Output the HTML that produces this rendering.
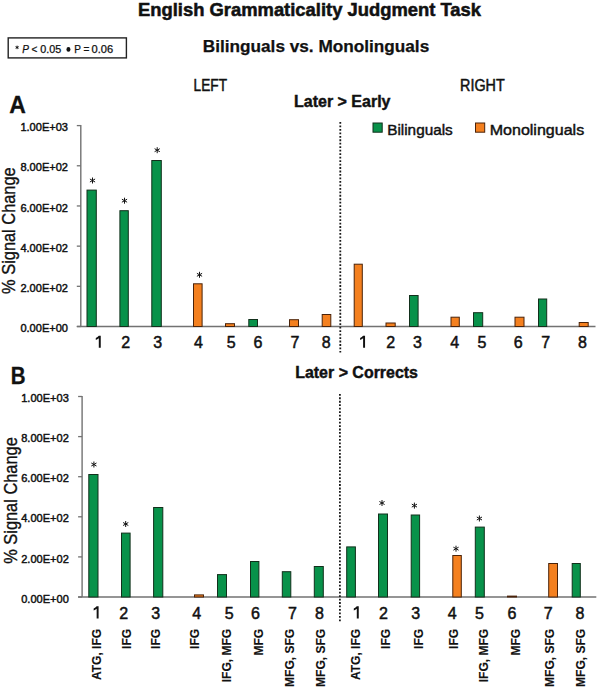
<!DOCTYPE html>
<html><head><meta charset="utf-8"><title>English Grammaticality Judgment Task</title>
<style>
html,body{margin:0;padding:0;background:#fff;}
body{width:600px;height:690px;overflow:hidden;}
svg{display:block;font-family:"Liberation Sans",sans-serif;}
</style></head><body>
<svg width="600" height="690" viewBox="0 0 600 690">
<rect width="600" height="690" fill="#fff"/>
<text x="138" y="16" font-size="19" font-weight="bold" text-anchor="start" textLength="343" lengthAdjust="spacingAndGlyphs" fill="#111" stroke="#111" stroke-width="0.55" >English Grammaticality Judgment Task</text>
<text x="202.8" y="52" font-size="17.2" font-weight="bold" text-anchor="start" textLength="226.4" lengthAdjust="spacingAndGlyphs" fill="#111" stroke="#111" stroke-width="0.25" >Bilinguals vs. Monolinguals</text>
<rect x="8.2" y="37.9" width="118.2" height="20" fill="#fff" stroke="#222" stroke-width="1.4"/>
<path d="M17.10 45.65L17.10 49.15M15.58 46.52L18.62 48.27M15.58 48.27L18.62 46.52" stroke="#111" stroke-width="0.95" fill="none" stroke-linecap="butt"/>
<text x="22.3" y="53.2" font-size="10" font-weight="normal" text-anchor="start" fill="#111" stroke="#111" stroke-width="0.25" font-style="italic">P</text>
<text x="31.5" y="53.2" font-size="10" font-weight="normal" text-anchor="start" fill="#111" stroke="#111" stroke-width="0.25" >&lt;</text>
<text x="40.2" y="53.2" font-size="10" font-weight="normal" text-anchor="start" textLength="21" lengthAdjust="spacingAndGlyphs" fill="#111" stroke="#111" stroke-width="0.25" >0.05</text>
<ellipse cx="68.45" cy="49.4" rx="2.0" ry="2.3" fill="#111"/>
<text x="74.2" y="53.2" font-size="10" font-weight="normal" text-anchor="start" fill="#111" stroke="#111" stroke-width="0.25" >P</text>
<text x="83.4" y="53.2" font-size="10" font-weight="normal" text-anchor="start" fill="#111" stroke="#111" stroke-width="0.25" >=</text>
<text x="91.6" y="53.2" font-size="10" font-weight="normal" text-anchor="start" textLength="21.6" lengthAdjust="spacingAndGlyphs" fill="#111" stroke="#111" stroke-width="0.25" >0.06</text>
<text x="193.6" y="91" font-size="16.3" font-weight="normal" text-anchor="start" textLength="33.4" lengthAdjust="spacingAndGlyphs" fill="#111" stroke="#111" stroke-width="0.5" >LEFT</text>
<text x="460.1" y="91" font-size="16.3" font-weight="normal" text-anchor="start" textLength="44.6" lengthAdjust="spacingAndGlyphs" fill="#111" stroke="#111" stroke-width="0.5" >RIGHT</text>
<text x="294" y="107" font-size="16.8" font-weight="bold" text-anchor="start" textLength="96.5" lengthAdjust="spacingAndGlyphs" fill="#111" stroke="#111" stroke-width="0.45" >Later &gt; Early</text>
<text x="295.2" y="377.5" font-size="16.8" font-weight="bold" text-anchor="start" textLength="122.8" lengthAdjust="spacingAndGlyphs" fill="#111" stroke="#111" stroke-width="0.45" >Later &gt; Corrects</text>
<text x="9.3" y="113.3" font-size="23.5" font-weight="bold" text-anchor="start" textLength="16.6" lengthAdjust="spacingAndGlyphs" fill="#111" stroke="#111" stroke-width="0.3" >A</text>
<text x="10.7" y="383.7" font-size="23" font-weight="bold" text-anchor="start" textLength="14.8" lengthAdjust="spacingAndGlyphs" fill="#111" stroke="#111" stroke-width="0.3" >B</text>
<rect x="373" y="123" width="9.2" height="9.2" fill="#08924a" stroke="#12301c" stroke-width="1"/>
<text x="387.2" y="134.5" font-size="15.2" font-weight="normal" text-anchor="start" textLength="65.6" lengthAdjust="spacingAndGlyphs" fill="#111" stroke="#111" stroke-width="0.45" >Bilinguals</text>
<rect x="475.5" y="123" width="9.2" height="9.2" fill="#f4801f" stroke="#4a230a" stroke-width="1"/>
<text x="489.7" y="134.5" font-size="15.2" font-weight="normal" text-anchor="start" textLength="94.5" lengthAdjust="spacingAndGlyphs" fill="#111" stroke="#111" stroke-width="0.45" >Monolinguals</text>
<line x1="80.8" y1="125.0" x2="80.8" y2="326.5" stroke="#727272" stroke-width="1.4"/>
<line x1="76.8" y1="125.60" x2="80.8" y2="125.60" stroke="#727272" stroke-width="1.3"/>
<line x1="76.8" y1="165.78" x2="80.8" y2="165.78" stroke="#727272" stroke-width="1.3"/>
<line x1="76.8" y1="205.96" x2="80.8" y2="205.96" stroke="#727272" stroke-width="1.3"/>
<line x1="76.8" y1="246.14" x2="80.8" y2="246.14" stroke="#727272" stroke-width="1.3"/>
<line x1="76.8" y1="286.32" x2="80.8" y2="286.32" stroke="#727272" stroke-width="1.3"/>
<line x1="76.8" y1="326.50" x2="80.8" y2="326.50" stroke="#727272" stroke-width="1.3"/>
<line x1="76.8" y1="326.5" x2="595.5" y2="326.5" stroke="#727272" stroke-width="1.3"/>
<text x="20.4" y="131.2" font-size="11.2" font-weight="normal" text-anchor="start" textLength="47.6" lengthAdjust="spacingAndGlyphs" fill="#111" stroke="#111" stroke-width="0.45" >1.00E+03</text>
<text x="20.4" y="171.38" font-size="11.2" font-weight="normal" text-anchor="start" textLength="47.6" lengthAdjust="spacingAndGlyphs" fill="#111" stroke="#111" stroke-width="0.45" >8.00E+02</text>
<text x="20.4" y="211.55999999999997" font-size="11.2" font-weight="normal" text-anchor="start" textLength="47.6" lengthAdjust="spacingAndGlyphs" fill="#111" stroke="#111" stroke-width="0.45" >6.00E+02</text>
<text x="20.4" y="251.73999999999998" font-size="11.2" font-weight="normal" text-anchor="start" textLength="47.6" lengthAdjust="spacingAndGlyphs" fill="#111" stroke="#111" stroke-width="0.45" >4.00E+02</text>
<text x="20.4" y="291.92" font-size="11.2" font-weight="normal" text-anchor="start" textLength="47.6" lengthAdjust="spacingAndGlyphs" fill="#111" stroke="#111" stroke-width="0.45" >2.00E+02</text>
<text x="20.4" y="332.1" font-size="11.2" font-weight="normal" text-anchor="start" textLength="47.6" lengthAdjust="spacingAndGlyphs" fill="#111" stroke="#111" stroke-width="0.45" >0.00E+00</text>
<text transform="translate(14.89,167.30) rotate(-90)" x="0" y="0" font-size="18" font-weight="normal" text-anchor="end" textLength="126.6" lengthAdjust="spacingAndGlyphs" fill="#111" stroke="#111" stroke-width="0.35">% Signal Change</text>
<line x1="340.3" y1="122" x2="340.3" y2="352.5" stroke="#1a1a1a" stroke-width="1.8" stroke-dasharray="1.8 1.67"/>
<rect x="87.00" y="190.10" width="9.30" height="136.40" fill="#08924a" stroke="#12301c" stroke-width="1"/>
<rect x="119.90" y="210.70" width="8.40" height="115.80" fill="#08924a" stroke="#12301c" stroke-width="1"/>
<rect x="151.80" y="160.50" width="9.50" height="166.00" fill="#08924a" stroke="#12301c" stroke-width="1"/>
<rect x="193.50" y="283.80" width="8.60" height="42.70" fill="#f4801f" stroke="#4a230a" stroke-width="1"/>
<rect x="225.50" y="323.70" width="9.00" height="2.80" fill="#f4801f" stroke="#4a230a" stroke-width="1"/>
<rect x="248.80" y="319.50" width="8.70" height="7.00" fill="#08924a" stroke="#12301c" stroke-width="1"/>
<rect x="289.50" y="319.70" width="9.00" height="6.80" fill="#f4801f" stroke="#4a230a" stroke-width="1"/>
<rect x="322.20" y="314.50" width="8.60" height="12.00" fill="#f4801f" stroke="#4a230a" stroke-width="1"/>
<rect x="354.20" y="264.20" width="8.10" height="62.30" fill="#f4801f" stroke="#4a230a" stroke-width="1"/>
<rect x="386.00" y="323.00" width="9.20" height="3.50" fill="#f4801f" stroke="#4a230a" stroke-width="1"/>
<rect x="409.50" y="295.50" width="8.60" height="31.00" fill="#08924a" stroke="#12301c" stroke-width="1"/>
<rect x="451.00" y="317.20" width="8.30" height="9.30" fill="#f4801f" stroke="#4a230a" stroke-width="1"/>
<rect x="473.50" y="312.70" width="9.20" height="13.80" fill="#08924a" stroke="#12301c" stroke-width="1"/>
<rect x="515.00" y="317.20" width="9.00" height="9.30" fill="#f4801f" stroke="#4a230a" stroke-width="1"/>
<rect x="538.50" y="299.00" width="8.20" height="27.50" fill="#08924a" stroke="#12301c" stroke-width="1"/>
<rect x="579.20" y="322.50" width="9.00" height="4.00" fill="#f4801f" stroke="#4a230a" stroke-width="1"/>
<path d="M92.50 177.50L92.50 183.50M89.90 179.00L95.10 182.00M89.90 182.00L95.10 179.00" stroke="#111" stroke-width="1.0" fill="none" stroke-linecap="butt"/>
<path d="M124.50 197.70L124.50 203.70M121.90 199.20L127.10 202.20M121.90 202.20L127.10 199.20" stroke="#111" stroke-width="1.0" fill="none" stroke-linecap="butt"/>
<path d="M157.20 147.20L157.20 153.20M154.60 148.70L159.80 151.70M154.60 151.70L159.80 148.70" stroke="#111" stroke-width="1.0" fill="none" stroke-linecap="butt"/>
<path d="M199.50 271.80L199.50 277.80M196.90 273.30L202.10 276.30M196.90 276.30L202.10 273.30" stroke="#111" stroke-width="1.0" fill="none" stroke-linecap="butt"/>
<path d="M98.80 335.70H100.75V347.70H98.80V338.20Q97.40 339.40 95.80 339.90V338.00Q97.70 337.20 98.80 335.70Z" fill="#111"/>
<text x="125.8" y="347.6" font-size="16" font-weight="normal" text-anchor="middle" fill="#111" stroke="#111" stroke-width="0.5" >2</text>
<text x="157.8" y="347.6" font-size="16" font-weight="normal" text-anchor="middle" fill="#111" stroke="#111" stroke-width="0.5" >3</text>
<text x="198.4" y="347.6" font-size="16" font-weight="normal" text-anchor="middle" fill="#111" stroke="#111" stroke-width="0.5" >4</text>
<text x="231.2" y="347.6" font-size="16" font-weight="normal" text-anchor="middle" fill="#111" stroke="#111" stroke-width="0.5" >5</text>
<text x="258" y="347.6" font-size="16" font-weight="normal" text-anchor="middle" fill="#111" stroke="#111" stroke-width="0.5" >6</text>
<text x="295" y="347.6" font-size="16" font-weight="normal" text-anchor="middle" fill="#111" stroke="#111" stroke-width="0.5" >7</text>
<text x="326.2" y="347.6" font-size="16" font-weight="normal" text-anchor="middle" fill="#111" stroke="#111" stroke-width="0.5" >8</text>
<path d="M363.10 335.70H365.05V347.70H363.10V338.20Q361.70 339.40 360.10 339.90V338.00Q362.00 337.20 363.10 335.70Z" fill="#111"/>
<text x="390.7" y="347.6" font-size="16" font-weight="normal" text-anchor="middle" fill="#111" stroke="#111" stroke-width="0.5" >2</text>
<text x="417.5" y="347.6" font-size="16" font-weight="normal" text-anchor="middle" fill="#111" stroke="#111" stroke-width="0.5" >3</text>
<text x="454.6" y="347.6" font-size="16" font-weight="normal" text-anchor="middle" fill="#111" stroke="#111" stroke-width="0.5" >4</text>
<text x="482" y="347.6" font-size="16" font-weight="normal" text-anchor="middle" fill="#111" stroke="#111" stroke-width="0.5" >5</text>
<text x="518.2" y="347.6" font-size="16" font-weight="normal" text-anchor="middle" fill="#111" stroke="#111" stroke-width="0.5" >6</text>
<text x="545.8" y="347.6" font-size="16" font-weight="normal" text-anchor="middle" fill="#111" stroke="#111" stroke-width="0.5" >7</text>
<text x="582.5" y="347.6" font-size="16" font-weight="normal" text-anchor="middle" fill="#111" stroke="#111" stroke-width="0.5" >8</text>
<line x1="82.1" y1="395.9" x2="82.1" y2="597" stroke="#727272" stroke-width="1.4"/>
<line x1="78.1" y1="396.50" x2="82.1" y2="396.50" stroke="#727272" stroke-width="1.3"/>
<line x1="78.1" y1="436.60" x2="82.1" y2="436.60" stroke="#727272" stroke-width="1.3"/>
<line x1="78.1" y1="476.70" x2="82.1" y2="476.70" stroke="#727272" stroke-width="1.3"/>
<line x1="78.1" y1="516.80" x2="82.1" y2="516.80" stroke="#727272" stroke-width="1.3"/>
<line x1="78.1" y1="556.90" x2="82.1" y2="556.90" stroke="#727272" stroke-width="1.3"/>
<line x1="78.1" y1="597.00" x2="82.1" y2="597.00" stroke="#727272" stroke-width="1.3"/>
<line x1="78.1" y1="597" x2="596.3" y2="597" stroke="#727272" stroke-width="1.3"/>
<text x="21.2" y="402.1" font-size="11.2" font-weight="normal" text-anchor="start" textLength="47.6" lengthAdjust="spacingAndGlyphs" fill="#111" stroke="#111" stroke-width="0.45" >1.00E+03</text>
<text x="21.2" y="442.20000000000005" font-size="11.2" font-weight="normal" text-anchor="start" textLength="47.6" lengthAdjust="spacingAndGlyphs" fill="#111" stroke="#111" stroke-width="0.45" >8.00E+02</text>
<text x="21.2" y="482.3" font-size="11.2" font-weight="normal" text-anchor="start" textLength="47.6" lengthAdjust="spacingAndGlyphs" fill="#111" stroke="#111" stroke-width="0.45" >6.00E+02</text>
<text x="21.2" y="522.4" font-size="11.2" font-weight="normal" text-anchor="start" textLength="47.6" lengthAdjust="spacingAndGlyphs" fill="#111" stroke="#111" stroke-width="0.45" >4.00E+02</text>
<text x="21.2" y="562.5" font-size="11.2" font-weight="normal" text-anchor="start" textLength="47.6" lengthAdjust="spacingAndGlyphs" fill="#111" stroke="#111" stroke-width="0.45" >2.00E+02</text>
<text x="21.2" y="602.6" font-size="11.2" font-weight="normal" text-anchor="start" textLength="47.6" lengthAdjust="spacingAndGlyphs" fill="#111" stroke="#111" stroke-width="0.45" >0.00E+00</text>
<text transform="translate(16.74,437.20) rotate(-90)" x="0" y="0" font-size="18" font-weight="normal" text-anchor="end" textLength="126.6" lengthAdjust="spacingAndGlyphs" fill="#111" stroke="#111" stroke-width="0.35">% Signal Change</text>
<line x1="339.9" y1="393.9" x2="339.9" y2="623" stroke="#1a1a1a" stroke-width="1.8" stroke-dasharray="1.8 1.67"/>
<rect x="88.80" y="474.50" width="9.20" height="122.50" fill="#08924a" stroke="#12301c" stroke-width="1"/>
<rect x="121.50" y="533.10" width="8.60" height="63.90" fill="#08924a" stroke="#12301c" stroke-width="1"/>
<rect x="153.60" y="507.50" width="9.20" height="89.50" fill="#08924a" stroke="#12301c" stroke-width="1"/>
<rect x="194.50" y="594.90" width="9.00" height="2.10" fill="#f4801f" stroke="#4a230a" stroke-width="1"/>
<rect x="217.50" y="574.60" width="9.00" height="22.40" fill="#08924a" stroke="#12301c" stroke-width="1"/>
<rect x="250.50" y="561.50" width="8.40" height="35.50" fill="#08924a" stroke="#12301c" stroke-width="1"/>
<rect x="282.30" y="571.70" width="8.50" height="25.30" fill="#08924a" stroke="#12301c" stroke-width="1"/>
<rect x="314.30" y="566.50" width="9.00" height="30.50" fill="#08924a" stroke="#12301c" stroke-width="1"/>
<rect x="346.70" y="546.90" width="8.70" height="50.10" fill="#08924a" stroke="#12301c" stroke-width="1"/>
<rect x="378.50" y="514.00" width="9.00" height="83.00" fill="#08924a" stroke="#12301c" stroke-width="1"/>
<rect x="411.20" y="515.00" width="8.40" height="82.00" fill="#08924a" stroke="#12301c" stroke-width="1"/>
<rect x="452.80" y="555.50" width="8.50" height="41.50" fill="#f4801f" stroke="#4a230a" stroke-width="1"/>
<rect x="475.30" y="527.10" width="9.00" height="69.90" fill="#08924a" stroke="#12301c" stroke-width="1"/>
<rect x="507.50" y="596.10" width="9.00" height="0.90" fill="#f4801f" stroke="#4a230a" stroke-width="1"/>
<rect x="548.70" y="563.50" width="8.80" height="33.50" fill="#f4801f" stroke="#4a230a" stroke-width="1"/>
<rect x="572.20" y="563.50" width="8.10" height="33.50" fill="#08924a" stroke="#12301c" stroke-width="1"/>
<path d="M93.90 461.50L93.90 467.50M91.30 463.00L96.50 466.00M91.30 466.00L96.50 463.00" stroke="#111" stroke-width="1.0" fill="none" stroke-linecap="butt"/>
<path d="M125.70 521.00L125.70 527.00M123.10 522.50L128.30 525.50M123.10 525.50L128.30 522.50" stroke="#111" stroke-width="1.0" fill="none" stroke-linecap="butt"/>
<path d="M382.00 500.00L382.00 506.00M379.40 501.50L384.60 504.50M379.40 504.50L384.60 501.50" stroke="#111" stroke-width="1.0" fill="none" stroke-linecap="butt"/>
<path d="M414.40 502.60L414.40 508.60M411.80 504.10L417.00 507.10M411.80 507.10L417.00 504.10" stroke="#111" stroke-width="1.0" fill="none" stroke-linecap="butt"/>
<path d="M456.00 545.70L456.00 551.70M453.40 547.20L458.60 550.20M453.40 550.20L458.60 547.20" stroke="#111" stroke-width="1.0" fill="none" stroke-linecap="butt"/>
<path d="M479.40 515.50L479.40 521.50M476.80 517.00L482.00 520.00M476.80 520.00L482.00 517.00" stroke="#111" stroke-width="1.0" fill="none" stroke-linecap="butt"/>
<path d="M96.65 606.20H98.60V618.40H96.65V608.70Q95.25 609.90 93.65 610.40V608.50Q95.55 607.70 96.65 606.20Z" fill="#111"/>
<text x="123.8" y="618.6" font-size="16" font-weight="normal" text-anchor="middle" fill="#111" stroke="#111" stroke-width="0.5" >2</text>
<text x="155.8" y="618.6" font-size="16" font-weight="normal" text-anchor="middle" fill="#111" stroke="#111" stroke-width="0.5" >3</text>
<text x="196.8" y="618.6" font-size="16" font-weight="normal" text-anchor="middle" fill="#111" stroke="#111" stroke-width="0.5" >4</text>
<text x="229.3" y="618.6" font-size="16" font-weight="normal" text-anchor="middle" fill="#111" stroke="#111" stroke-width="0.5" >5</text>
<text x="255.5" y="618.6" font-size="16" font-weight="normal" text-anchor="middle" fill="#111" stroke="#111" stroke-width="0.5" >6</text>
<text x="292.5" y="618.6" font-size="16" font-weight="normal" text-anchor="middle" fill="#111" stroke="#111" stroke-width="0.5" >7</text>
<text x="319.5" y="618.6" font-size="16" font-weight="normal" text-anchor="middle" fill="#111" stroke="#111" stroke-width="0.5" >8</text>
<path d="M356.80 606.20H358.75V618.40H356.80V608.70Q355.40 609.90 353.80 610.40V608.50Q355.70 607.70 356.80 606.20Z" fill="#111"/>
<text x="383.5" y="618.6" font-size="16" font-weight="normal" text-anchor="middle" fill="#111" stroke="#111" stroke-width="0.5" >2</text>
<text x="415.6" y="618.6" font-size="16" font-weight="normal" text-anchor="middle" fill="#111" stroke="#111" stroke-width="0.5" >3</text>
<text x="452.3" y="618.6" font-size="16" font-weight="normal" text-anchor="middle" fill="#111" stroke="#111" stroke-width="0.5" >4</text>
<text x="479.5" y="618.6" font-size="16" font-weight="normal" text-anchor="middle" fill="#111" stroke="#111" stroke-width="0.5" >5</text>
<text x="512" y="618.6" font-size="16" font-weight="normal" text-anchor="middle" fill="#111" stroke="#111" stroke-width="0.5" >6</text>
<text x="548.3" y="618.6" font-size="16" font-weight="normal" text-anchor="middle" fill="#111" stroke="#111" stroke-width="0.5" >7</text>
<text x="580" y="618.6" font-size="16" font-weight="normal" text-anchor="middle" fill="#111" stroke="#111" stroke-width="0.5" >8</text>
<text transform="translate(100.90,628.90) rotate(-90)" x="0" y="0" font-size="12" font-weight="bold" text-anchor="end" fill="#111" stroke="#111" stroke-width="0.1">ATG, IFG</text>
<text transform="translate(131.30,628.90) rotate(-90)" x="0" y="0" font-size="12" font-weight="bold" text-anchor="end" fill="#111" stroke="#111" stroke-width="0.1">IFG</text>
<text transform="translate(160.30,628.90) rotate(-90)" x="0" y="0" font-size="12" font-weight="bold" text-anchor="end" fill="#111" stroke="#111" stroke-width="0.1">IFG</text>
<text transform="translate(199.30,628.90) rotate(-90)" x="0" y="0" font-size="12" font-weight="bold" text-anchor="end" fill="#111" stroke="#111" stroke-width="0.1">IFG</text>
<text transform="translate(230.50,628.90) rotate(-90)" x="0" y="0" font-size="12" font-weight="bold" text-anchor="end" fill="#111" stroke="#111" stroke-width="0.1">IFG, MFG</text>
<text transform="translate(262.60,628.90) rotate(-90)" x="0" y="0" font-size="12" font-weight="bold" text-anchor="end" fill="#111" stroke="#111" stroke-width="0.1">MFG</text>
<text transform="translate(294.10,628.90) rotate(-90)" x="0" y="0" font-size="12" font-weight="bold" text-anchor="end" fill="#111" stroke="#111" stroke-width="0.1">MFG, SFG</text>
<text transform="translate(325.40,628.90) rotate(-90)" x="0" y="0" font-size="12" font-weight="bold" text-anchor="end" fill="#111" stroke="#111" stroke-width="0.1">MFG, SFG</text>
<text transform="translate(360.30,628.90) rotate(-90)" x="0" y="0" font-size="12" font-weight="bold" text-anchor="end" fill="#111" stroke="#111" stroke-width="0.1">ATG, IFG</text>
<text transform="translate(390.10,628.90) rotate(-90)" x="0" y="0" font-size="12" font-weight="bold" text-anchor="end" fill="#111" stroke="#111" stroke-width="0.1">IFG</text>
<text transform="translate(423.40,628.90) rotate(-90)" x="0" y="0" font-size="12" font-weight="bold" text-anchor="end" fill="#111" stroke="#111" stroke-width="0.1">IFG</text>
<text transform="translate(458.30,628.90) rotate(-90)" x="0" y="0" font-size="12" font-weight="bold" text-anchor="end" fill="#111" stroke="#111" stroke-width="0.1">IFG</text>
<text transform="translate(488.30,628.90) rotate(-90)" x="0" y="0" font-size="12" font-weight="bold" text-anchor="end" fill="#111" stroke="#111" stroke-width="0.1">IFG, MFG</text>
<text transform="translate(520.30,628.90) rotate(-90)" x="0" y="0" font-size="12" font-weight="bold" text-anchor="end" fill="#111" stroke="#111" stroke-width="0.1">MFG</text>
<text transform="translate(554.00,628.90) rotate(-90)" x="0" y="0" font-size="12" font-weight="bold" text-anchor="end" fill="#111" stroke="#111" stroke-width="0.1">MFG, SFG</text>
<text transform="translate(584.90,628.90) rotate(-90)" x="0" y="0" font-size="12" font-weight="bold" text-anchor="end" fill="#111" stroke="#111" stroke-width="0.1">MFG, SFG</text>
</svg>
</body></html>
